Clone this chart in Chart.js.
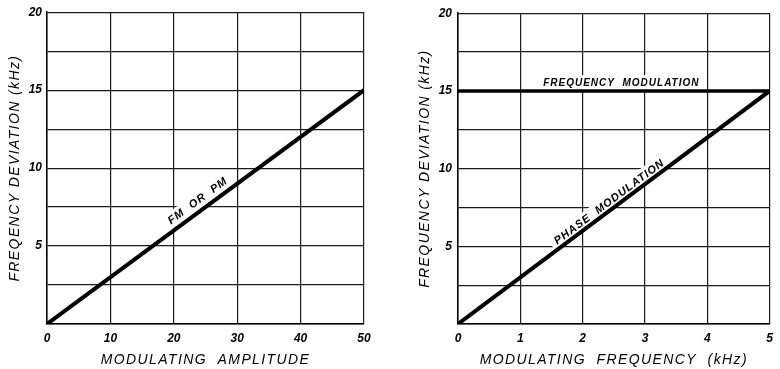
<!DOCTYPE html>
<html>
<head>
<meta charset="utf-8">
<script src="https://cdn.jsdelivr.net/npm/chart.js"></script>
<style>
  body { margin: 0; background: #fff; }
  .wrap { display: flex; width: 780px; height: 369px; }
  canvas { display: block; }
</style>
</head>
<body>
<div class="wrap">
  <canvas id="ampChart" width="390" height="369"></canvas>
  <canvas id="freqChart" width="390" height="369"></canvas>
</div>
<script>
// left chart: deviation vs modulating amplitude
const ampX = [0, 50];
const ampDev = [0, 15];
const ampTicks = [0, 10, 20, 30, 40, 50];

// right chart: deviation vs modulating frequency (kHz)
const freqX = [0, 5];
const pmDev = [0, 15];
const fmDev = [15, 15];
const freqTicks = [0, 1, 2, 3, 4, 5];

// y tick labels shown (grid every 2.5)
const devTicks = [5, 10, 15, 20];

const tickFont = { family: '"Liberation Sans"', size: 12, style: 'italic', weight: 'bold' };
const titleFont = { family: '"Liberation Sans"', size: 14, style: 'italic', lineHeight: 18 / 14 };

function points(xs, ys) {
  return xs.map((x, i) => ({ x: x, y: ys[i] }));
}

// wider lettering for axis titles
const spacedTitles = {
  id: 'spacedTitles',
  afterLayout(chart) {
    Object.values(chart.scales).forEach(s => {
      if (s._spaced) return;
      const draw = s.drawTitle;
      s.drawTitle = function () {
        this.ctx.save();
        this.ctx.letterSpacing = '1.4px';
        draw.call(this);
        this.ctx.restore();
      };
      s._spaced = true;
    });
  }
};

// text written along the lines, with a white patch under it like the original drawing
const lineLabels = {
  id: 'lineLabels',
  beforeDatasetsDraw(chart, args, opts) {
    const ctx = chart.ctx;
    const xs = chart.scales.x, ys = chart.scales.y;
    (opts.items || []).forEach(item => {
      let angle = 0;
      if (item.along !== undefined) {
        const pts = chart.getDatasetMeta(item.along).data;
        const a = pts[0], b = pts[pts.length - 1];
        angle = Math.atan2(b.y - a.y, b.x - a.x);
      }
      ctx.save();
      ctx.translate(xs.getPixelForValue(item.x), ys.getPixelForValue(item.y));
      ctx.rotate(angle);
      ctx.font = 'italic bold ' + item.size + 'px "Liberation Sans"';
      ctx.letterSpacing = '1px';
      const w = ctx.measureText(item.text).width;
      ctx.fillStyle = '#fff';
      ctx.fillRect(-w / 2 - 5, -8, w + 10, 16);
      ctx.fillStyle = '#000';
      ctx.textAlign = 'center';
      ctx.textBaseline = 'middle';
      ctx.fillText(item.text, 0, 0);
      ctx.restore();
    });
  }
};

function makeChart(id, opt) {
  return new Chart(document.getElementById(id), {
    type: 'line',
    data: { datasets: opt.datasets },
    options: {
      responsive: false,
      animation: false,
      devicePixelRatio: 1,
      layout: { autoPadding: false, padding: { left: 0, right: opt.padRight, top: 8, bottom: 0 } },
      plugins: {
        legend: { display: false },
        tooltip: { enabled: false },
        lineLabels: { items: opt.labels }
      },
      scales: {
        x: {
          type: 'linear',
          min: opt.xTicks[0],
          max: opt.xTicks[opt.xTicks.length - 1],
          afterBuildTicks: s => { s.ticks = opt.xTicks.map(v => ({ value: v })); },
          afterFit: s => { s.height = 45; },
          grid: { color: '#1a1a1a', lineWidth: 1.2, drawTicks: false },
          border: { color: '#000', width: 1.5 },
          ticks: { color: '#000', font: tickFont, padding: 7, maxRotation: 0 },
          title: { display: true, text: opt.xTitle, color: '#000', font: titleFont, padding: 0 }
        },
        y: {
          type: 'linear',
          min: 0,
          max: 20,
          ticks: {
            stepSize: 2.5,
            color: '#000',
            font: tickFont,
            padding: opt.yPad,
            callback: v => devTicks.includes(v) ? String(v) : ''
          },
          afterFit: s => { s.width = opt.yWidth; },
          grid: { color: '#1a1a1a', lineWidth: 1.2, drawTicks: false },
          border: { color: '#000', width: 1.5 },
          title: { display: true, text: opt.yTitle, color: '#000', font: titleFont, padding: { top: opt.yTitlePad, bottom: 0 } }
        }
      }
    },
    plugins: [spacedTitles, lineLabels]
  });
}

makeChart('ampChart', {
  xTicks: ampTicks,
  xTitle: 'MODULATING  AMPLITUDE',
  yTitle: 'FREQENCY DEVIATION (kHz)',
  yWidth: 47,
  yPad: 5,
  yTitlePad: 6,
  padRight: 26,
  datasets: [{
    data: points(ampX, ampDev),
    borderColor: '#000', borderWidth: 4, pointRadius: 0, tension: 0
  }],
  labels: [{ text: 'FM  OR  PM', x: 23.8, y: 7.9, along: 0, size: 11 }]
});

makeChart('freqChart', {
  xTicks: freqTicks,
  xTitle: 'MODULATING  FREQUENCY  (kHz)',
  yTitle: 'FREQUENCY DEVIATION (kHz)',
  yWidth: 68,
  yPad: 6,
  yTitlePad: 26,
  padRight: 5,
  datasets: [{
    data: points(freqX, pmDev),
    borderColor: '#000', borderWidth: 4, pointRadius: 0, tension: 0
  }, {
    data: points(freqX, fmDev),
    borderColor: '#000', borderWidth: 3.5, pointRadius: 0, tension: 0
  }],
  labels: [
    { text: 'PHASE  MODULATION', x: 2.43, y: 7.85, along: 0, size: 11 },
    { text: 'FREQUENCY  MODULATION', x: 2.62, y: 15.5, size: 10 }
  ]
});
</script>
</body>
</html>
